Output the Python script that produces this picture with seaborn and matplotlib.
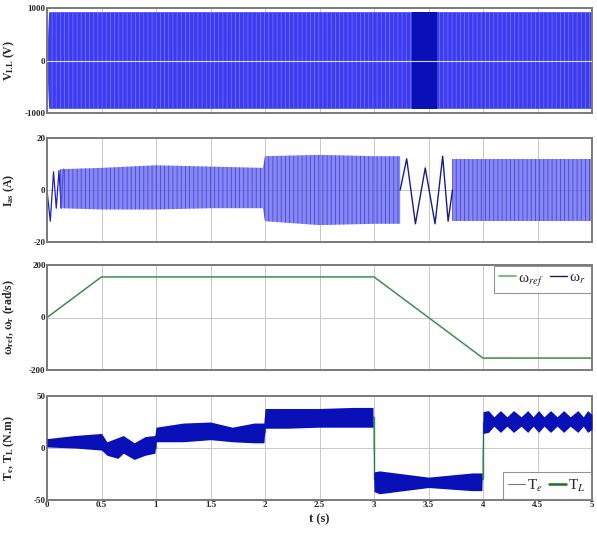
import matplotlib
matplotlib.use("Agg")
import matplotlib.pyplot as plt
import seaborn as sns
import pandas as pd

# ---- data (time in s) ----
# line-to-line voltage: envelope of the PWM band
v_t = [0.0, 0.02, 5.0]
v_upper = [0, 920, 920]
v_lower = [0, -920, -920]
v_dense_t = [3.35, 3.58]          # darker, denser switching region
v_dense_upper = [930, 930]
v_dense_lower = [-930, -930]

# stator current: start-up swing, then envelopes of the dense band
i_start_t = [0.0, 0.03, 0.06, 0.085, 0.11, 0.13, 0.15]
i_start = [0, -12, 7, -7, 7.5, -7, 8]
i_t = [0.12, 0.5, 1.0, 1.5, 1.98, 2.0, 2.5, 3.0, 3.24]
i_upper = [8, 8.5, 9.5, 9, 8.5, 13, 13.5, 13, 13]
i_lower = [-7, -7.5, -7.5, -7, -7, -12, -13.5, -13, -13]
i_slow_t = [3.24, 3.30, 3.38, 3.47, 3.56, 3.63, 3.68, 3.72]
i_slow = [0, 12, -13, 8.5, -13, 13, -12, 0]
i_end_t = [3.72, 4.0, 4.5, 5.0]
i_end_upper = [12, 12, 12, 12]
i_end_lower = [-12, -12, -12, -12]

# speed reference and rotor speed (rad/s)
w_t = [0.0, 0.5, 3.0, 4.0, 5.0]
w_ref = [0, 155, 155, -155, -155]
w_r = [0, 154, 154, -154, -154]

# load torque steps (N.m)
tl_t = [0, 0.5, 0.5, 1, 1, 2, 2, 3, 3, 4, 4, 5]
tl = [5, 5, 0, 0, 15, 15, 30, 30, -30, -30, 25, 25]

# electromagnetic torque band envelope (N.m)
te_t = [0.0, 0.25, 0.5, 0.55, 0.65, 0.7, 0.8, 0.9, 0.99,
        1.0, 1.25, 1.5, 1.7, 1.9, 1.99,
        2.0, 2.2, 2.5, 2.8, 2.99,
        3.0, 3.05, 3.5, 3.9, 3.99,
        4.0, 4.05, 4.10, 4.16, 4.22, 4.28, 4.35, 4.41, 4.46, 4.51,
        4.56, 4.62, 4.68, 4.74, 4.80, 4.87, 4.92, 4.96, 5.0]
te_upper = [9, 12, 14, 6, 10, 12, 5, 11, 12,
            20, 24, 25, 20, 24, 24,
            38, 38, 38, 39, 39,
            -23, -22, -28, -24, -24,
            35, 36, 30, 36, 30, 36, 30, 36, 30, 36,
            30, 36, 30, 36, 30, 36, 30, 36, 32]
te_lower = [1, 0, -2, -7, -10, -5, -11, -7, -5,
            6, 6, 8, 6, 5, 5,
            19, 19, 20, 20, 20,
            -42, -44, -38, -41, -41,
            14, 15, 21, 15, 21, 15, 21, 15, 21, 15,
            21, 15, 21, 15, 21, 15, 21, 15, 18]

x_ticks = [0, 0.5, 1, 1.5, 2, 2.5, 3, 3.5, 4, 4.5, 5]
x_tick_labels = ["0", "0.5", "1", "1.5", "2", "2.5", "3", "3.5", "4", "4.5", "5"]

sns.set_style("white")
plt.rcParams["font.family"] = ["Liberation Serif", "DejaVu Serif"]
plt.rcParams["mathtext.fontset"] = "stix"
plt.rcParams["hatch.linewidth"] = 0.6

fig = plt.figure(figsize=(5.97, 5.41), dpi=100)
W = 545 / 597
boxes = [(8, 113), (138, 242), (265, 370), (396, 500)]
axes = []
for top, bot in boxes:
    ax = fig.add_axes([47 / 597, 1 - bot / 541, W, (bot - top) / 541])
    axes.append(ax)

blue = "#3b3bf2"
dark = "#0a10b8"
green = "#2f9a2f"


def style(ax, ylim, yticks, ylabel):
    ax.set_xlim(0, 5)
    ax.set_ylim(*ylim)
    ax.set_xticks(x_ticks)
    ax.set_yticks(yticks)
    ax.set_yticklabels([str(v) for v in yticks], fontsize=6.5, fontweight="bold")
    ax.grid(True, color="#c8c8c8", lw=0.7)
    ax.set_axisbelow(True)
    for s in ax.spines.values():
        s.set_color("#7a7a7a")
        s.set_linewidth(1.4)
    ax.tick_params(direction="in", length=2, width=0.6, color="#7a7a7a", pad=1)
    ax.set_ylabel(ylabel, fontsize=8.5, fontweight="bold", labelpad=2)
    ax.set_xlabel("")


def legend(ax, handles, labels, loc):
    leg = ax.legend(handles, labels, loc=loc, ncol=2, fontsize=11, handlelength=1.1,
                    handletextpad=0.15, columnspacing=0.4, frameon=True,
                    fancybox=False, borderpad=0.35, borderaxespad=0.05)
    leg.get_frame().set_edgecolor("#7a7a7a")
    leg.get_frame().set_linewidth(0.8)


# panel 1 - voltage
ax = axes[0]
ax.fill_between(v_t, v_lower, v_upper, color=blue, lw=0, hatch="||||",
                edgecolor="#7070f8", zorder=2)
ax.fill_between(v_dense_t, v_dense_lower, v_dense_upper, color=dark, lw=0, zorder=3)
ax.axhline(0, color="white", lw=0.8, alpha=0.8, zorder=4)
style(ax, (-1000, 1000), [1000, 0, -1000], "V$_\\mathbf{LL}$ (V)")
ax.set_xticklabels([])

# panel 2 - current
ax = axes[1]
sns.lineplot(x=i_start_t, y=i_start, ax=ax, color="#2020c0", lw=0.9,
             estimator=None, sort=False)
ax.fill_between(i_t, i_lower, i_upper, color="#6060f0", alpha=0.75, lw=0,
                hatch="||||", edgecolor="#3030d0", zorder=2)
ax.fill_between(i_end_t, i_end_lower, i_end_upper, color="#6060f0", alpha=0.75,
                lw=0, hatch="||||", edgecolor="#3030d0", zorder=2)
sns.lineplot(x=i_slow_t, y=i_slow, ax=ax, color="#1a1a90", lw=1.0,
             estimator=None, sort=False)
style(ax, (-20, 20), [20, 0, -20], "I$_\\mathbf{as}$ (A)")
ax.set_xticklabels([])

# panel 3 - speed
ax = axes[2]
sns.lineplot(x=w_t, y=w_ref, ax=ax, color="#5cb85c", lw=1.2,
             estimator=None, sort=False)
sns.lineplot(x=w_t, y=w_r, ax=ax, color="#303070", lw=0.4, alpha=0.7,
             estimator=None, sort=False)
style(ax, (-200, 200), [200, 0, -200], "ω$_\\mathbf{ref}$, ω$_\\mathbf{r}$ (rad/s)")
ax.set_xticklabels([])
h1, = ax.plot([], [], color="#5cb85c", lw=1.2)
h2, = ax.plot([], [], color="#1a1a70", lw=1.0)
legend(ax, [h1, h2], ["ω$_{ref}$", "ω$_r$"], "upper right")

# panel 4 - torque
ax = axes[3]
ax.fill_between(te_t, te_lower, te_upper, color=dark, lw=0, zorder=3)
sns.lineplot(x=tl_t, y=tl, ax=ax, color=green, lw=1.0, estimator=None, sort=False,
             zorder=2)
style(ax, (-50, 50), [50, 0, -50], "T$_\\mathbf{e}$, T$_\\mathbf{L}$ (N.m)")
ax.set_xticklabels(x_tick_labels, fontsize=6.5, fontweight="bold")
ax.set_xlabel("t (s)", fontsize=9, fontweight="bold", labelpad=3)
h1, = ax.plot([], [], color="#777777", lw=0.8)
h2, = ax.plot([], [], color="#1f6f1f", lw=1.8)
legend(ax, [h1, h2], ["T$_e$", "T$_L$"], "lower right")

for a in axes:
    a.yaxis.set_label_coords(-0.055, 0.5)

fig.savefig("out.png", dpi=100)
